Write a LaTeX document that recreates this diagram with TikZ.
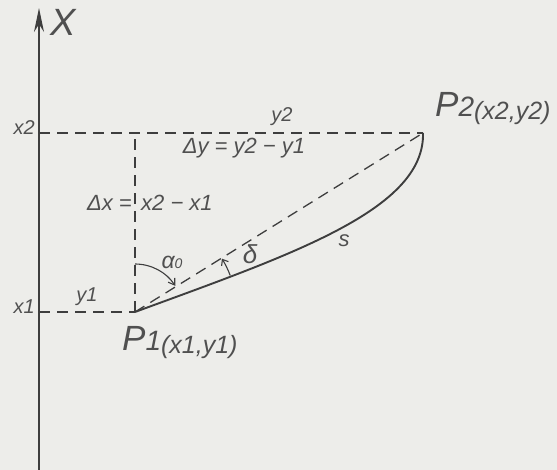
\documentclass[tikz,border=0pt]{standalone}
\usepackage{fontspec}
\setmainfont{Liberation Sans}
\usetikzlibrary{arrows.meta}
\definecolor{paper}{RGB}{237,237,234}
\definecolor{ink}{RGB}{62,62,62}
\definecolor{txt}{RGB}{80,80,80}
\newcommand{\fs}[1]{\fontsize{#1}{#1}\selectfont}
\begin{document}
\begin{tikzpicture}[x=1pt,y=1pt,
  lbl/.style={text=txt,font=\itshape\fs{20},inner sep=0pt},
  dline/.style={draw=ink,line width=1.3pt,dash pattern=on 11pt off 7pt},
  arcline/.style={draw=ink,line width=1.1pt},
  curveline/.style={draw=ink,line width=1.9pt}]
\fill[paper] (0,0) rectangle (557,-470);
\useasboundingbox (0,0) rectangle (557,-470);
% axis
\coordinate (O) at (39,-470);
\coordinate (T) at (39,-8);
\draw[ink,line width=1.5pt,-{Stealth[length=24pt,width=10pt]}] (O) -- (T);
\node[lbl,font=\itshape\fs{38}] (X) at (63,-22) {X};
% points
\coordinate (P1) at (135,-312);
\coordinate (P2) at (423,-133);
\coordinate (A2) at (39,-133);
\coordinate (A1) at (39,-312);
\coordinate (V) at (135,-133);
% dashed lines
\draw[dline] (A2) -- (P2);
\draw[dline] (A1) -- (P1);
\draw[dline] (P1) -- (V);
\draw[dline] (P1) -- (P2);
% curve s
\draw[curveline] (P1) .. controls (290,-255) and (425,-210) .. (P2);
% angle arcs
\draw[arcline,-{Straight Barb[length=6pt,width=8pt]}] ([shift={(90:48pt)}]P1) arc[start angle=90,end angle=33,radius=48pt];
\draw[arcline,-{Straight Barb[length=5pt,width=8pt]}] ([shift={(21:102pt)}]P1) arc[start angle=21,end angle=31.5,radius=102pt];
% labels
\node[lbl,anchor=east] (lx2) at (35,-128) {x2};
\node[lbl,anchor=east] (lx1) at (35,-307) {x1};
\node[lbl] (ly1) at (87,-297) {y1};
\node[lbl] (ly2) at (282,-117) {y2};
\node[lbl,font=\itshape\fs{22}] (ldy) at (244,-148) {Δy = y2 − y1};
\node[lbl,font=\itshape\fs{22},anchor=east] (ldx) at (132,-203) {Δx =};
\node[lbl,font=\itshape\fs{22},anchor=west] (ldx2) at (141,-203) {x2 − x1};
\node[lbl,font=\itshape\fs{23}] (la) at (172,-262) {α{\fs{14}0}};
\node[lbl,font=\itshape\fs{26}] (ld) at (250,-254) {δ};
\node[lbl,font=\itshape\fs{22}] (ls) at (344,-241) {s};
\node[lbl,anchor=base west] (lP1) at (122,-350) {{\fs{35}P}{\fs{28}1}\raisebox{-3pt}{\fs{25}(x1,y1)}};
\node[lbl,anchor=base west] (lP2) at (435,-117) {{\fs{35}P}{\fs{28}2}\raisebox{-3pt}{\fs{25}(x2,y2)}};
\end{tikzpicture}
\end{document}
